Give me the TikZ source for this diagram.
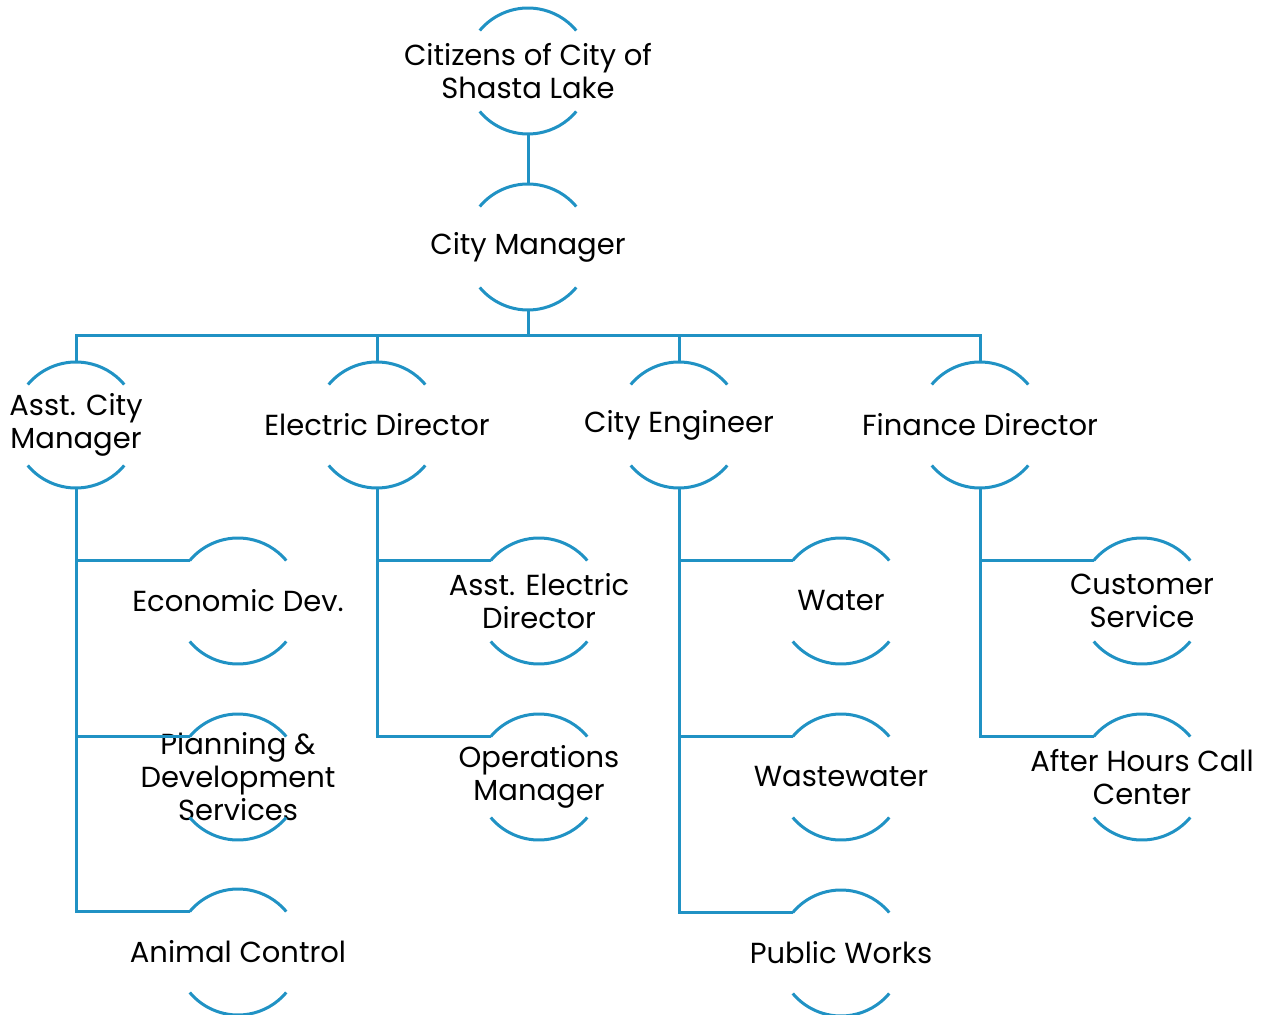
\documentclass[tikz,border=0pt]{standalone}
\usepackage{fontspec}
\setmainfont{Poppins}
\definecolor{orgblue}{HTML}{2092C4}
\begin{document}
\begin{tikzpicture}[x=0.5pt,y=-0.5pt,
  caption/.style={align=center, inner sep=0pt, font=\fontsize{14.5}{16.5}\selectfont},
  unit/.style={circle, minimum size=63pt, inner sep=0pt, outer sep=0pt,
    label={[caption]center:#1}},
  ring/.style={orgblue, line width=1.5pt},
  link/.style={orgblue, line width=1.5pt}]
\useasboundingbox (0,0) rectangle (1267,1015);

% top of the hierarchy
\node[unit={Citizens of City of\\Shasta Lake}] (citizens) at (528,71)  {};
\node[unit={City Manager}]                     (cm)       at (528,247) {};

% department heads
\node[unit={Asst. City\\Manager}] (acm) at (76,425)  {};
\node[unit={Electric Director}]   (ed)  at (377,425) {};
\node[unit={City Engineer}]       (ce)  at (679,425) {};
\node[unit={Finance Director}]    (fd)  at (980,425) {};

% divisions
\node[unit={Economic Dev.}]                     (econ)   at (238,601) {};
\node[unit={Planning \&\\Development\\Services}] (plan)   at (238,777) {};
\node[unit={Animal Control}]                    (animal) at (238,952) {};
\node[unit={Asst. Electric\\Director}]          (aed)    at (539,601) {};
\node[unit={Operations\\Manager}]               (ops)    at (539,777) {};
\node[unit={Water}]                             (water)  at (841,601) {};
\node[unit={Wastewater}]                        (waste)  at (841,777) {};
\node[unit={Public Works}]                      (pw)     at (841,953) {};
\node[unit={Customer\\Service}]                 (cs)     at (1142,601) {};
\node[unit={After Hours Call\\Center}]          (ah)     at (1142,777) {};

% upper and lower arcs of every unit
\foreach \n in {citizens,cm,acm,ed,ce,fd,econ,plan,animal,aed,ops,water,waste,pw,cs,ah}{
  \draw[ring] (\n.140) arc[start angle=140, end angle=40, radius=31.5pt];
  \draw[ring] (\n.220) arc[start angle=220, end angle=320, radius=31.5pt];
}

% connectors
\draw[link] (citizens.south) -- (cm.north);
\foreach \h in {acm,ed,ce,fd}{
  \draw[link] (cm.south) -- ++(0,26) -| (\h.north);
}
\foreach \p/\c in {acm/econ,acm/plan,acm/animal,ed/aed,ed/ops,ce/water,ce/waste,ce/pw,fd/cs,fd/ah}{
  \draw[link] (\p.south) |- (\c.140);
}
\end{tikzpicture}
\end{document}
